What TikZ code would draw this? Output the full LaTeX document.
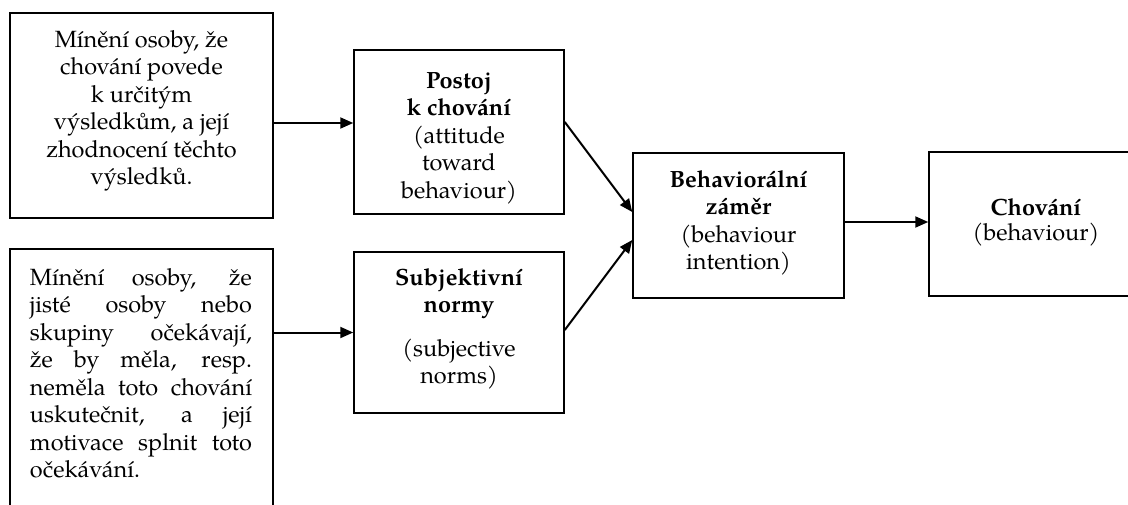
\documentclass[tikz,border=0pt]{standalone}
\usepackage{fontspec}
\setmainfont{texgyrepagella}[Extension=.otf, UprightFont=*-regular, BoldFont=*-bold, ItalicFont=*-italic, BoldItalicFont=*-bolditalic]
\usetikzlibrary{arrows.meta}

% one text line stretched to the full paragraph width
\newcommand{\jline}[1]{\makebox[\linewidth][s]{#1}\\}

\tikzset{
  box/.style={draw=black, line width=1.5pt, rectangle, inner sep=0pt},
  txt/.style={anchor=base, inner sep=0pt, font=\fontsize{23.5}{27.5}\selectfont},
  arr/.style={line width=2pt, -{Triangle[length=13pt,width=11pt]}},
}

\begin{document}
\begin{tikzpicture}[x=1pt, y=-1pt]
  \useasboundingbox (0,0) rectangle (1128,504);
  \clip (0,0) rectangle (1128,504);

  % boxes
  \node[box, minimum width=263pt, minimum height=205pt] (b1) at (141.5,115.5) {};
  \node[box, minimum width=263pt, minimum height=281pt] (b2) at (141.5,389.5) {};
  \node[box, minimum width=210pt, minimum height=164pt] (b3) at (459,132) {};
  \node[box, minimum width=210pt, minimum height=161pt] (b4) at (459,332.5) {};
  \node[box, minimum width=211pt, minimum height=145pt] (b5) at (738.5,225.5) {};
  \node[box, minimum width=221pt, minimum height=144pt] (b6) at (1039.5,224) {};

  % texts
  \node[txt] (t1) at (141.5,47) {\parbox[t]{250pt}{\centering
    Mínění osoby, že\\ chování povede\\ k určitým\\ výsledkům, a její\\ zhodnocení těchto\\ výsledků.}};
  \node[txt] (t2) at (141,285) {\parbox[t]{222pt}{\raggedright
    \jline{Mínění osoby, že}
    \jline{jisté osoby nebo}
    \jline{skupiny očekávají,}
    \jline{že by měla, resp.}
    \jline{neměla toto chování}
    \jline{uskutečnit, a její}
    \jline{motivace splnit toto}
    očekávání.}};
  \node[txt] (t3) at (459,88) {\parbox[t]{200pt}{\centering
    \textbf{Postoj}\\ \textbf{k chování}\\ (attitude\\ toward\\ behaviour)}};
  \node[txt] (t4) at (459,285) {\parbox[t]{200pt}{\centering
    \textbf{Subjektivní}\\ \textbf{normy}\\[16pt] (subjective\\ norms)}};
  \node[txt] (t5) at (738.5,187) {\parbox[t]{200pt}{\centering
    \textbf{Behaviorální}\\ \textbf{záměr}\\ (behaviour\\ intention)}};
  \node[txt] (t6) at (1036,215) {\parbox[t]{200pt}{\centering\baselineskip=25pt
    \textbf{Chování}\\ (behaviour)}};

  % connectors
  \draw[arr] ([yshift=-7.5pt]b1.east) -- ([yshift=-7.5pt]b1.east -| b3.west);
  \draw[arr] (b2.east |- b4.west) -- (b4.west);
  \draw[arr] ([yshift=10pt]b3.east) -- ([yshift=13.5pt]b5.west);
  \draw[arr] ([yshift=2.5pt]b4.east) -- ([yshift=-14.5pt]b5.west);
  \draw[arr] ([yshift=3.5pt]b5.east) -- ([yshift=3.5pt]b5.east -| b6.west);
\end{tikzpicture}
\end{document}
